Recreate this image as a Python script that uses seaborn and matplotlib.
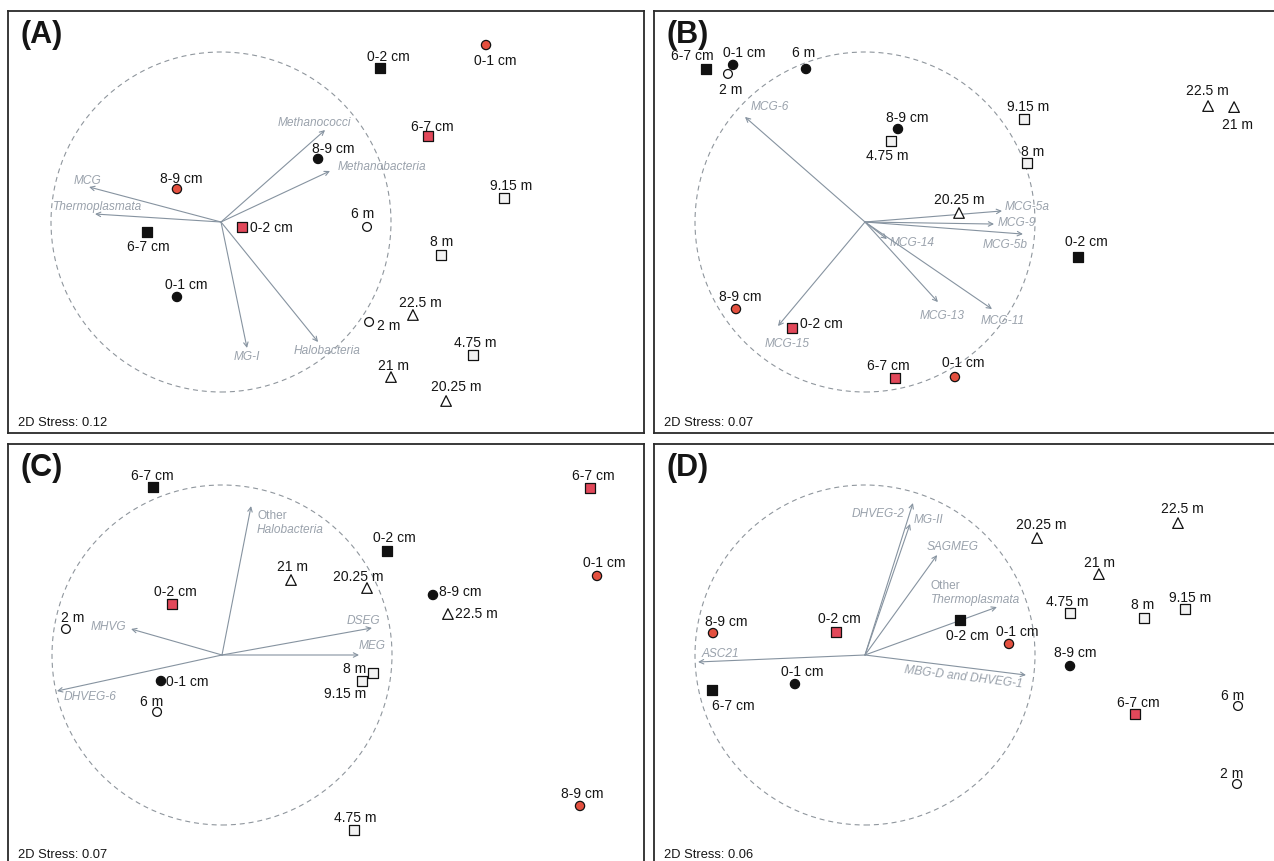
import matplotlib
matplotlib.use("Agg")
import matplotlib.pyplot as plt
import pandas as pd
import seaborn as sns
from matplotlib.patches import Circle

sns.set_theme(style="white")
plt.rcParams["font.family"] = ["Liberation Sans", "DejaVu Sans"]

# ---------------------------------------------------------------- samples
SAMPLES = ["0-1 cm", "8-9 cm", "0-2 cm", "6-7 cm",
           "0-1 cm", "8-9 cm", "0-2 cm", "6-7 cm",
           "2 m", "6 m", "4.75 m", "8 m", "9.15 m",
           "20.25 m", "21 m", "22.5 m"]
GROUPS = ["Site1-coreA", "Site1-coreA", "Site1-coreB", "Site1-coreB",
          "Site2-coreA", "Site2-coreA", "Site2-coreB", "Site2-coreB",
          "Water-upper", "Water-upper", "Water-mid", "Water-mid", "Water-mid",
          "Water-deep", "Water-deep", "Water-deep"]
GROUPS_B = GROUPS[:9] + ["Site1-coreA"] + GROUPS[10:]

# ---------------------------------------------------------------- NMDS scores
A_x = [-0.259, 0.571, 0.935, -0.435, 1.559, -0.259, 0.124, 1.218,
       0.871, 0.859, 1.482, 1.294, 1.665, 1.324, 1.000, 1.129]
A_y = [-0.441, 0.371, 0.906, -0.059, 1.041, 0.194, -0.029, 0.506,
       -0.588, -0.029, -0.782, -0.194, 0.141, -1.053, -0.912, -0.547]
B_x = [-0.776, 0.194, 1.253, -0.935, 0.529, -0.759, -0.429, 0.176,
       -0.806, -0.347, 0.153, 0.953, 0.935, 0.553, 2.171, 2.018]
B_y = [0.924, 0.547, -0.206, 0.900, -0.912, -0.512, -0.624, -0.918,
       0.871, 0.900, 0.476, 0.347, 0.606, 0.053, 0.676, 0.682]
C_x = [-0.359, 1.241, 0.971, -0.406, 2.206, 2.106, -0.294, 2.165,
       -0.918, -0.382, 0.776, 0.888, 0.824, 0.853, 0.406, 1.329]
C_y = [-0.153, 0.353, 0.612, 0.988, 0.465, -0.888, 0.300, 0.982,
       0.153, -0.335, -1.029, -0.106, -0.153, 0.394, 0.441, 0.241]
D_x = [-0.412, 1.206, 0.559, -0.900, 0.847, -0.894, -0.171, 1.588,
       2.188, 2.194, 1.206, 1.641, 1.882, 1.012, 1.376, 1.841]
D_y = [-0.171, -0.065, 0.206, -0.206, 0.065, 0.129, 0.135, -0.347,
       -0.759, -0.300, 0.247, 0.218, 0.271, 0.688, 0.476, 0.776]

# ---------------------------------------------------------------- taxon vectors
A_taxa = ["Methanococci", "Methanobacteria", "MCG", "Thermoplasmata", "MG-I", "Halobacteria"]
A_vx = [0.612, 0.641, -0.776, -0.741, 0.153, 0.571]
A_vy = [0.541, 0.300, 0.206, 0.047, -0.741, -0.706]
B_taxa = ["MCG-6", "MCG-5a", "MCG-9", "MCG-5b", "MCG-14", "MCG-13", "MCG-11", "MCG-15"]
B_vx = [-0.706, 0.806, 0.759, 0.929, 0.129, 0.429, 0.747, -0.512]
B_vy = [0.618, 0.065, -0.012, -0.071, -0.100, -0.471, -0.512, -0.612]
C_taxa = ["Other|Halobacteria", "MHVG", "DSEG", "MEG", "DHVEG-6"]
C_vx = [0.171, -0.535, 0.882, 0.806, -0.971]
C_vy = [0.876, 0.153, 0.159, 0.000, -0.212]
D_taxa = ["DHVEG-2", "MG-II", "SAGMEG", "Other|Thermoplasmata", "ASC21", "MBG-D and DHVEG-1"]
D_vx = [0.282, 0.265, 0.424, 0.776, -0.982, 0.947]
D_vy = [0.894, 0.771, 0.588, 0.282, -0.041, -0.118]

STRESS = {"A": "0.12", "B": "0.07", "C": "0.07", "D": "0.06"}

# ---------------------------------------------------------------- layout (pixels)
W, H, DPI = 1274, 862, 100
UNIT = 170.0  # pixels per NMDS unit
PANELS = {
    "A": dict(box=(8, 12, 644, 434), origin=(221, 223), x=A_x, y=A_y, groups=GROUPS,
              taxa=A_taxa, vx=A_vx, vy=A_vy),
    "B": dict(box=(654, 12, 1290, 434), origin=(865, 223), x=B_x, y=B_y, groups=GROUPS_B,
              taxa=B_taxa, vx=B_vx, vy=B_vy),
    "C": dict(box=(8, 445, 644, 885), origin=(222, 656), x=C_x, y=C_y, groups=GROUPS,
              taxa=C_taxa, vx=C_vx, vy=C_vy),
    "D": dict(box=(654, 445, 1290, 885), origin=(865, 656), x=D_x, y=D_y, groups=GROUPS,
              taxa=D_taxa, vx=D_vx, vy=D_vy),
}

# sample label offsets (dx, dy in screen pixels, y downward) and alignment
LABEL_POS = {
    "A": [(9, -13, "c"), (15, -11, "c"), (8, -12, "c"), (1, 14, "c"), (9, 15, "c"), (4, -11, "c"),
          (8, 0, "l"), (4, -10, "c"), (8, 3, "l"), (-4, -14, "c"), (2, -13, "c"), (1, -14, "c"),
          (7, -13, "c"), (10, -15, "c"), (2, -12, "c"), (7, -13, "c")],
    "B": [(11, -13, "c"), (9, -12, "c"), (8, -16, "c"), (-14, -14, "c"), (8, -15, "c"), (4, -13, "c"),
          (8, -5, "l"), (-7, -13, "c"), (3, 15, "c"), (-2, -17, "c"), (-4, 14, "c"), (6, -12, "c"),
          (4, -13, "c"), (0, -14, "c"), (3, 17, "c"), (-1, -16, "c")],
    "C": [(5, 0, "l"), (6, -4, "l"), (7, -14, "c"), (-1, -12, "c"), (7, -14, "c"), (2, -13, "c"),
          (3, -13, "c"), (3, -13, "c"), (7, -12, "c"), (-5, -11, "c"), (1, -13, "c"), (-7, -5, "r"),
          (-17, 12, "c"), (-9, -12, "c"), (1, -14, "c"), (7, -1, "l")],
    "D": [(7, -13, "c"), (5, -14, "c"), (7, 15, "c"), (21, 15, "c"), (8, -13, "c"), (13, -12, "c"),
          (3, -14, "c"), (3, -12, "c"), (-5, -11, "c"), (-5, -11, "c"), (-3, -12, "c"), (-1, -14, "c"),
          (5, -12, "c"), (4, -14, "c"), (1, -12, "c"), (4, -15, "c")],
}

# taxon label offsets from arrow tips (dx, dy, align, rotation)
TAXON_POS = {
    "A": [(-11, -8, "c", 0), (8, -5, "l", 0), (-2, -7, "c", 0), (3, -8, "c", 0),
          (0, 8, "c", 0), (9, 8, "c", 0)],
    "B": [(25, -11, "c", 0), (25, -5, "c", 0), (23, -2, "c", 0), (-18, 10, "c", 0),
          (25, 3, "c", 0), (4, 13, "c", 0), (11, 11, "c", 0), (9, 17, "c", 0)],
    "C": [(6, 9, "l", 0), (-23, -3, "c", 0), (-8, -8, "c", 0), (13, -10, "c", 0), (33, 5, "c", 0)],
    "D": [(-35, 10, "c", 0), (18, -5, "c", 0), (16, -9, "c", 0), (-66, -22, "l", 0),
          (22, -9, "c", 0), (-63, 1, "c", -7)],
}

FACE = {"Site1-coreA": "#111111", "Site1-coreB": "#111111",
        "Site2-coreA": "#e4503f", "Site2-coreB": "#e2485a",
        "Water-upper": "#ffffff", "Water-mid": "#f2f2f2", "Water-deep": "#ffffff"}
MARK = {"Site1-coreA": "o", "Site1-coreB": "s", "Site2-coreA": "o", "Site2-coreB": "s",
        "Water-upper": "o", "Water-mid": "s", "Water-deep": "^"}
SIZE = {"Site1-coreA": 44, "Site1-coreB": 56, "Site2-coreA": 44, "Site2-coreB": 56,
        "Water-upper": 40, "Water-mid": 52, "Water-deep": 58}

VEC_COLOR = "#8693a0"
VEC_TEXT = "#9aa2ac"
TXT = "#151515"
HA = {"c": "center", "l": "left", "r": "right"}

fig = plt.figure(figsize=(W / DPI, H / DPI), dpi=DPI)
fig.patch.set_facecolor("white")

for key, p in PANELS.items():
    x0, y0, x1, y1 = p["box"]
    ox, oy = p["origin"]
    ax = fig.add_axes([x0 / W, (H - y1) / H, (x1 - x0) / W, (y1 - y0) / H])
    ax.set_xlim((x0 - ox) / UNIT, (x1 - ox) / UNIT)
    ax.set_ylim((oy - y1) / UNIT, (oy - y0) / UNIT)
    ax.set_xticks([])
    ax.set_yticks([])
    ax.set_xlabel("")
    ax.set_ylabel("")
    for sp in ax.spines.values():
        sp.set_visible(True)
        sp.set_color("#2a2a2a")
        sp.set_linewidth(1.3)

    # correlation circle
    ax.add_patch(Circle((0, 0), 1.0, fill=False, ec="#8f969d", lw=0.8,
                        ls=(0, (4.5, 3.5)), zorder=1))

    # taxon vectors
    for name, vx, vy, (dx, dy, al, rot) in zip(p["taxa"], p["vx"], p["vy"], TAXON_POS[key]):
        ax.annotate("", xy=(vx, vy), xytext=(0, 0),
                    arrowprops=dict(arrowstyle="->", color=VEC_COLOR, lw=0.8,
                                    mutation_scale=8, shrinkA=0, shrinkB=0), zorder=2)
        if "|" in name:
            first, second = name.split("|")
            ax.annotate(first, (vx, vy), xytext=(dx, -dy), textcoords="offset pixels",
                        ha=HA[al], va="center", fontsize=8.6, color=VEC_TEXT, zorder=2)
            ax.annotate(second, (vx, vy), xytext=(dx, -dy - 14), textcoords="offset pixels",
                        ha=HA[al], va="center", fontsize=8.6, color=VEC_TEXT,
                        style="italic", zorder=2)
        else:
            ax.annotate(name, (vx, vy), xytext=(dx, -dy), textcoords="offset pixels",
                        ha=HA[al], va="center", fontsize=8.6, color=VEC_TEXT,
                        style="italic", rotation=rot, rotation_mode="anchor", zorder=2)

    # samples
    df = pd.DataFrame({"NMDS1": p["x"], "NMDS2": p["y"], "sample": SAMPLES, "group": p["groups"]})
    sns.scatterplot(data=df, x="NMDS1", y="NMDS2", hue="group", style="group", size="group",
                    palette=FACE, markers=MARK, sizes=SIZE, edgecolor="#111111",
                    linewidth=0.9, legend=False, ax=ax, zorder=4)
    ax.set_xlabel("")
    ax.set_ylabel("")
    for (sx, sy, lab), (dx, dy, al) in zip(zip(p["x"], p["y"], SAMPLES), LABEL_POS[key]):
        ax.annotate(lab, (sx, sy), xytext=(dx, -dy), textcoords="offset pixels",
                    ha=HA[al], va="center", fontsize=10, color=TXT, zorder=5)

    # panel letter and stress
    ax.text(12 / (x1 - x0), 1 - 23 / (y1 - y0), f"({key})", transform=ax.transAxes,
            ha="left", va="center", fontsize=22, fontweight="bold", color="#151515")
    stress_y = 434 - 11 if y0 < 100 else 855
    ax.text(10 / (x1 - x0), (y1 - stress_y) / (y1 - y0), f"2D Stress: {STRESS[key]}",
            transform=ax.transAxes, ha="left", va="center", fontsize=9.3, color=TXT)

fig.savefig("out.png", dpi=DPI, facecolor="white")
